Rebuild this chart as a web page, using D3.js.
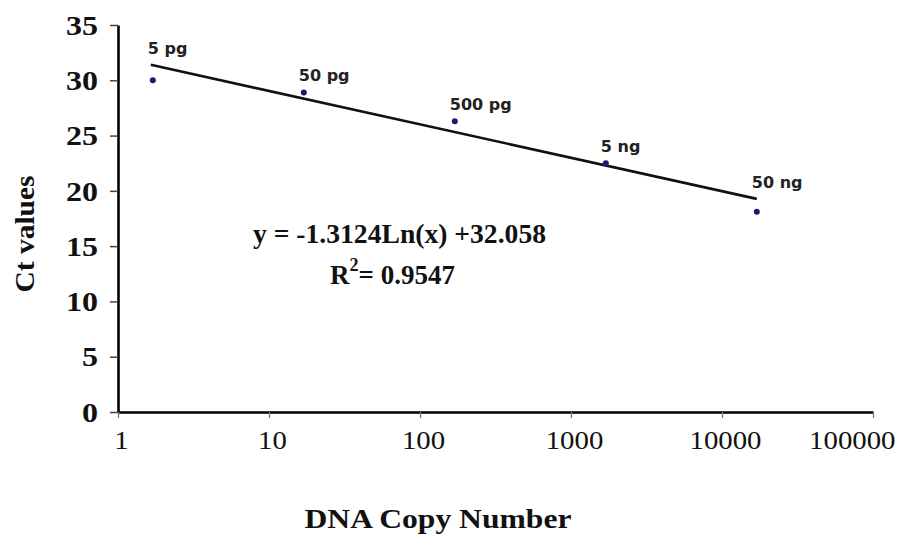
<!DOCTYPE html>
<html>
<head>
<meta charset="utf-8">
<script src="https://cdn.jsdelivr.net/npm/d3@7"></script>
<style>
  body { margin: 0; background: #fff; }
  svg { display: block; }
</style>
</head>
<body>
<div id="chart"></div>
<script>
// standard curve data
var copyNumbers = [1.7, 17, 170, 1700, 17000];
var ctValues = [30.0, 28.9, 26.3, 22.5, 18.1];
var amountLabels = ["5 pg", "50 pg", "500 pg", "5 ng", "50 ng"];

var xTicks = [1, 10, 100, 1000, 10000, 100000];
var yTicks = [0, 5, 10, 15, 20, 25, 30, 35];

// log trendline y = a*ln(x) + b
var fitSlope = -1.3124, fitIntercept = 32.058, fitR2 = "0.9547";
var fitRange = [1.65, 17000];

var width = 904, height = 537;

var svg = d3.select("#chart")
  .append("svg")
    .attr("width", width)
    .attr("height", height);

var x = d3.scaleLog()
  .domain([1, 100000])
  .range([118, 873]);

var y = d3.scaleLinear()
  .domain([0, 35])
  .range([412, 25]);

var serif = "'Liberation Serif', 'Times New Roman', serif";

// y axis
var yAxis = svg.append("g")
  .attr("transform", "translate(" + x(1) + ",0)")
  .call(d3.axisLeft(y).tickValues(yTicks).tickSize(8).tickSizeOuter(0).tickPadding(12));
yAxis.select(".domain").attr("stroke", "#000").attr("stroke-width", 2.6);
yAxis.selectAll(".tick line").attr("stroke", "#444").attr("stroke-width", 1.5);
yAxis.selectAll(".tick text")
  .attr("fill", "#111")
  .style("font-family", serif)
  .style("font-weight", "bold")
  .style("font-size", "27px")
  .attr("dy", "0.34em")
  .attr("textLength", function(d) { return String(d).length * 16; })
  .attr("lengthAdjust", "spacingAndGlyphs");

// x axis
var xAxis = svg.append("g")
  .attr("transform", "translate(0," + y(0) + ")")
  .call(d3.axisBottom(x).tickValues(xTicks).tickFormat(d3.format("d")).tickSize(6).tickSizeOuter(0).tickPadding(13));
xAxis.select(".domain").attr("stroke", "#000").attr("stroke-width", 2.6);
xAxis.selectAll(".tick line").attr("stroke", "#777").attr("stroke-width", 1.3);
xAxis.selectAll(".tick text")
  .attr("fill", "#111")
  .style("font-family", serif)
  .style("font-size", "26px")
  .attr("textLength", function(d) { return String(d).length * 14.4; })
  .attr("lengthAdjust", "spacingAndGlyphs")
  .attr("text-anchor", function(d, i) { return i == xTicks.length - 1 ? "end" : "middle"; })
  .attr("x", function(d, i) { return i == xTicks.length - 1 ? 22 : 3; });

// trendline
var fitLine = d3.line()
  .x(function(d) { return x(d); })
  .y(function(d) { return y(fitSlope * Math.log(d) + fitIntercept); });

svg.append("path")
  .datum(fitRange)
  .attr("d", fitLine)
  .attr("fill", "none")
  .attr("stroke", "#111")
  .attr("stroke-width", 2.6);

// data points
svg.selectAll("mycircle")
  .data(copyNumbers)
  .enter()
  .append("circle")
    .attr("cx", function(d) { return x(d); })
    .attr("cy", function(d, i) { return y(ctValues[i]); })
    .attr("r", 3)
    .style("fill", "#1b1b6b");

// point labels, sitting just above the point or the line, whichever is higher
svg.selectAll("mylabel")
  .data(copyNumbers)
  .enter()
  .append("text")
    .attr("x", function(d) { return x(d) - 5; })
    .attr("y", function(d, i) {
      var top = Math.min(y(ctValues[i]), y(fitSlope * Math.log(d) + fitIntercept));
      return top - 11;
    })
    .style("font-family", "'DejaVu Sans', Verdana, sans-serif")
    .style("font-weight", "bold")
    .style("font-size", "16px")
    .attr("fill", "#222")
    .text(function(d, i) { return amountLabels[i]; });

// equation
svg.append("text")
  .attr("x", 253)
  .attr("y", 243)
  .attr("textLength", 293)
  .attr("lengthAdjust", "spacingAndGlyphs")
  .style("font-family", serif)
  .style("font-weight", "bold")
  .style("font-size", "27px")
  .attr("fill", "#111")
  .text("y = " + fitSlope + "Ln(x) +" + fitIntercept.toFixed(3));

var r2 = svg.append("text")
  .attr("x", 330)
  .attr("y", 284)
  .style("font-family", serif)
  .style("font-weight", "bold")
  .style("font-size", "27px")
  .attr("fill", "#111");
r2.append("tspan").text("R");
r2.append("tspan").attr("dy", -13).style("font-size", "18px").text("2");
r2.append("tspan").attr("dy", 13).text("= " + fitR2);

// axis titles
svg.append("text")
  .attr("transform", "translate(34,234) rotate(-90)")
  .attr("text-anchor", "middle")
  .attr("textLength", 117)
  .attr("lengthAdjust", "spacingAndGlyphs")
  .style("font-family", serif)
  .style("font-weight", "bold")
  .style("font-size", "27px")
  .attr("fill", "#111")
  .text("Ct values");

svg.append("text")
  .attr("x", 438)
  .attr("y", 528)
  .attr("text-anchor", "middle")
  .attr("textLength", 267)
  .attr("lengthAdjust", "spacingAndGlyphs")
  .style("font-family", serif)
  .style("font-weight", "bold")
  .style("font-size", "27px")
  .attr("fill", "#111")
  .text("DNA Copy Number");
</script>
</body>
</html>
